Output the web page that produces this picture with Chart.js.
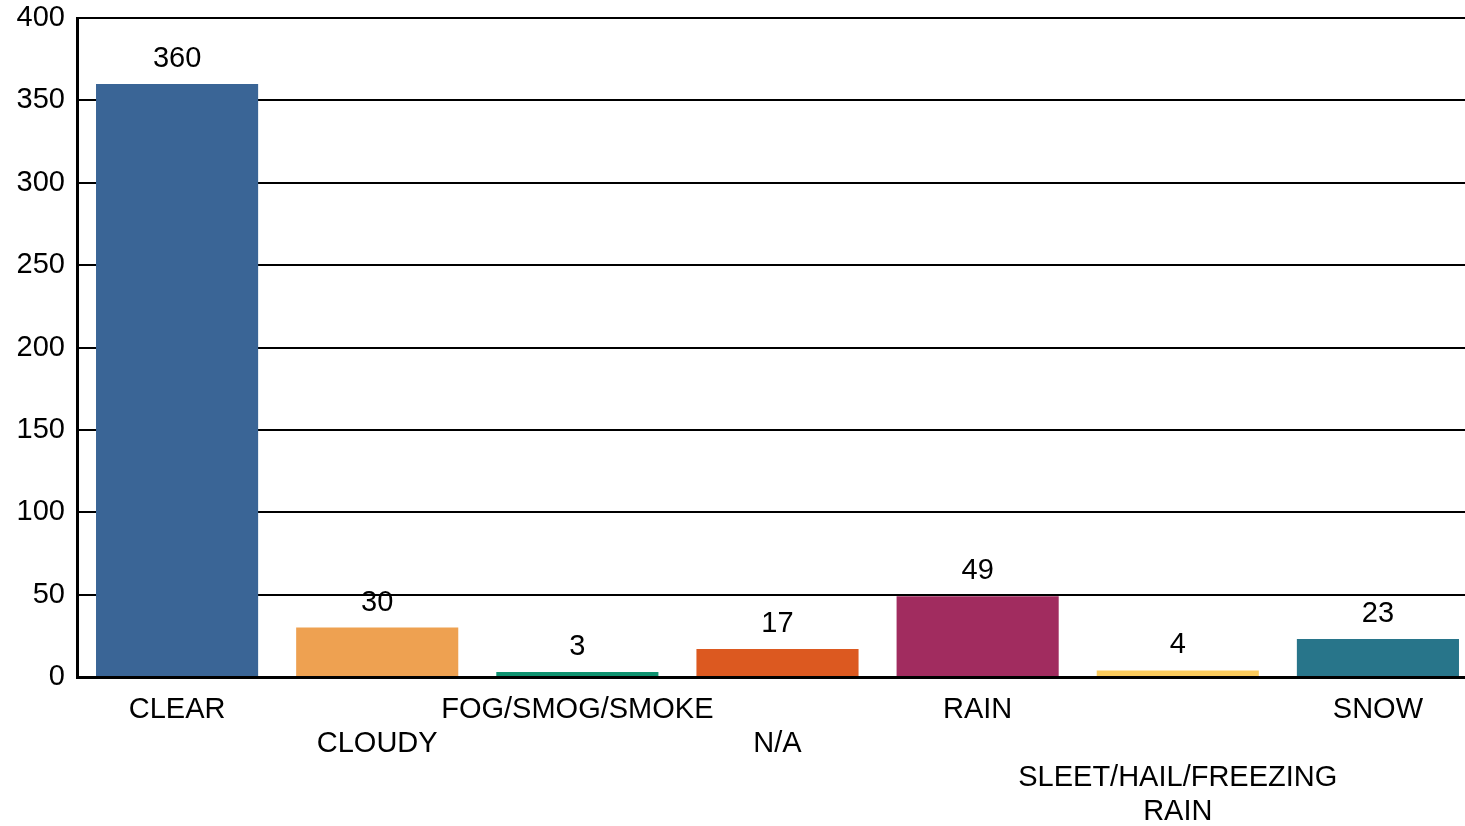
<!DOCTYPE html>
<html>
<head>
<meta charset="utf-8">
<script src="https://cdn.jsdelivr.net/npm/chart.js@4"></script>
<style>
  html, body { margin: 0; padding: 0; background: #fff; overflow: hidden; }
  #wrap { width: 1478px; height: 826px; }
</style>
</head>
<body>
<div id="wrap"><canvas id="chart"></canvas></div>
<script>
// weather categories, staggered labels like the original
const categories = ["CLEAR", "CLOUDY", "FOG/SMOG/SMOKE", "N/A", "RAIN", "SLEET/HAIL/FREEZING RAIN", "SNOW"];
const tickLabels = [
    ["CLEAR"],
    ["", "CLOUDY"],
    ["FOG/SMOG/SMOKE"],
    ["", "N/A"],
    ["RAIN"],
    ["", "", "SLEET/HAIL/FREEZING", "RAIN"],
    ["SNOW"]
];
const counts = [360, 30, 3, 17, 49, 4, 23];
const barColors = ["#3a6596", "#eea151", "#0e9270", "#dc5920", "#a12c5f", "#fbcb5c", "#28758a"];

const FONT = "'Liberation Sans', Arial, sans-serif";
const FONT_SIZE = 29;

// values above the bars
const valueLabels = {
    id: "valueLabels",
    afterDatasetsDraw(chart) {
        const ctx = chart.ctx;
        const meta = chart.getDatasetMeta(0);
        ctx.save();
        ctx.font = FONT_SIZE + "px " + FONT;
        ctx.fillStyle = "#000";
        ctx.textAlign = "center";
        ctx.textBaseline = "middle";
        meta.data.forEach((bar, i) => {
            ctx.fillText(String(counts[i]), bar.x, bar.y - 25);
        });
        ctx.restore();
    }
};

new Chart(document.getElementById("chart"), {
    type: "bar",
    data: {
        labels: tickLabels,
        datasets: [{
            label: "count",
            data: counts,
            backgroundColor: barColors,
            categoryPercentage: 1,
            barPercentage: 0.81
        }]
    },
    options: {
        responsive: true,
        maintainAspectRatio: false,
        animation: false,
        layout: { padding: { top: 18, right: 0, left: 0, bottom: 0 } },
        plugins: {
            legend: { display: false },
            tooltip: { enabled: false }
        },
        scales: {
            x: {
                grid: { display: false, drawTicks: false },
                border: { color: "#000", width: 3 },
                ticks: {
                    color: "#000",
                    font: { family: FONT, size: FONT_SIZE, lineHeight: 34 / FONT_SIZE },
                    maxRotation: 0,
                    autoSkip: false,
                    padding: 16
                },
                afterFit(scale) {
                    scale.height = 149;
                    scale.paddingLeft = 0;
                    scale.paddingRight = 0;
                }
            },
            y: {
                min: 0,
                max: 400,
                grid: { color: "#000", lineWidth: 2, drawTicks: false },
                border: { color: "#000", width: 3 },
                ticks: {
                    stepSize: 50,
                    color: "#000",
                    font: { family: FONT, size: FONT_SIZE },
                    padding: 12
                },
                afterFit(scale) {
                    scale.width = 77;
                    scale.paddingTop = 0;
                    scale.paddingBottom = 0;
                }
            }
        }
    },
    plugins: [valueLabels]
});
</script>
</body>
</html>
